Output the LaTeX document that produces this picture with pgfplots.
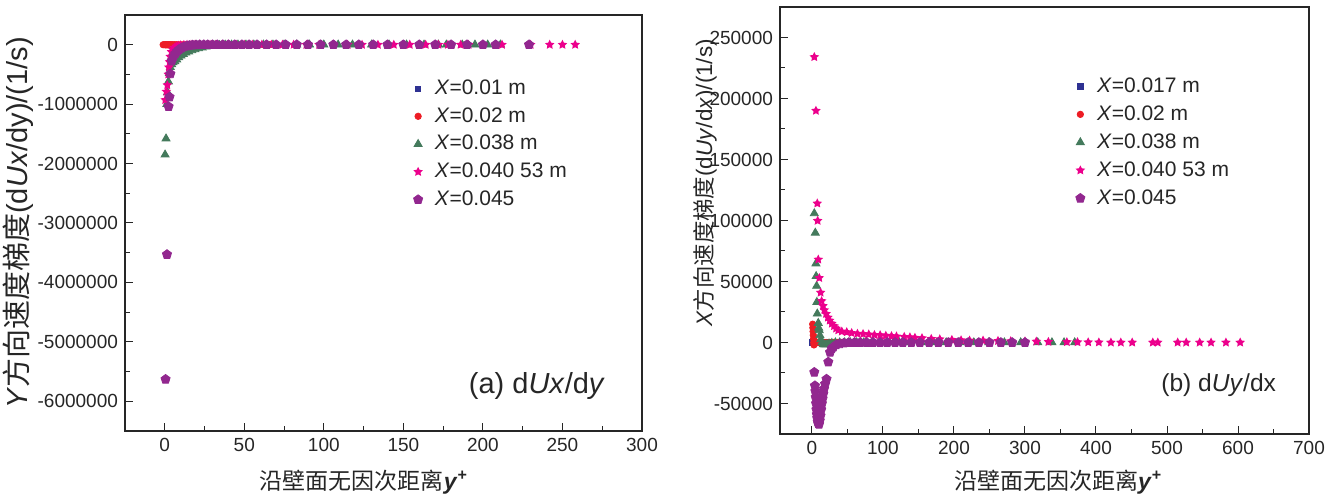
\documentclass[border=0pt]{standalone}
\usepackage{pgfplots}
\pgfplotsset{compat=1.18}
\usepackage{fontspec}
\setmainfont{Liberation Sans}
\newfontfamily\cjk{Noto Sans CJK SC}
\usetikzlibrary{plotmarks}

\definecolor{cblue}{RGB}{46,49,146}
\definecolor{cred}{RGB}{237,28,36}
\definecolor{cgreen}{RGB}{68,122,92}
\definecolor{cpink}{RGB}{236,0,140}
\definecolor{cpurple}{RGB}{146,39,143}

% filled five-pointed star
\pgfdeclareplotmark{fstar}{%
  \pgfpathmoveto{\pgfpointpolar{90}{\pgfplotmarksize}}%
  \pgfpathlineto{\pgfpointpolar{126}{0.5\pgfplotmarksize}}%
  \pgfpathlineto{\pgfpointpolar{162}{\pgfplotmarksize}}%
  \pgfpathlineto{\pgfpointpolar{198}{0.5\pgfplotmarksize}}%
  \pgfpathlineto{\pgfpointpolar{234}{\pgfplotmarksize}}%
  \pgfpathlineto{\pgfpointpolar{270}{0.5\pgfplotmarksize}}%
  \pgfpathlineto{\pgfpointpolar{306}{\pgfplotmarksize}}%
  \pgfpathlineto{\pgfpointpolar{342}{0.5\pgfplotmarksize}}%
  \pgfpathlineto{\pgfpointpolar{18}{\pgfplotmarksize}}%
  \pgfpathlineto{\pgfpointpolar{54}{0.5\pgfplotmarksize}}%
  \pgfpathclose\pgfusepathqfill}

\pgfplotsset{
  panel/.style={
    scale only axis,
    axis line style={line width=0.6pt, black!85},
    tick style={line width=0.5pt, black!85},
    major tick length=4pt, minor tick length=2.5pt,
    xtick pos=bottom, ytick pos=left,
    minor x tick num=1, minor y tick num=1,
    scaled y ticks=false, scaled x ticks=false,
    /pgf/number format/assume math mode=true,
    tick label style={font=\fontsize{9.5}{11}\selectfont, text=black!85},
    label style={font=\fontsize{11.5}{14}\selectfont, text=black!85},
    legend style={draw=none, fill=none, anchor=north west,
      font=\fontsize{10.5}{12.5}\selectfont, text=black!85,
      row sep=1pt, column sep=4pt, inner sep=0pt},
    legend cell align=left,
  },
  sblue/.style={only marks, mark=square*, mark size=1.3pt, color=cblue},
  sred/.style={only marks, mark=*, mark size=1.6pt, color=cred},
  sgreen/.style={only marks, mark=triangle*, mark size=2.3pt, color=cgreen},
  spink/.style={only marks, mark=fstar, mark size=2.5pt, color=cpink},
  spurple/.style={only marks, mark=pentagon*, mark size=2.4pt, color=cpurple},
}

\begin{document}
\begin{tikzpicture}
\useasboundingbox (0,0) rectangle (667.5pt,248.5pt);

% ---------------- (a) dUx/dy ----------------
\begin{axis}[panel,
  at={(62.5pt,33pt)}, anchor=south west,
  width=258.5pt, height=208pt,
  xmin=-25, xmax=300, ymin=-6500000, ymax=500000,
  xtick={0,50,100,150,200,250,300},
  ytick={-6000000,-5000000,-4000000,-3000000,-2000000,-1000000,0},
  yticklabels={-6000000,-5000000,-4000000,-3000000,-2000000,-1000000,0},
  xlabel={{\cjk 沿壁面无因次距离}\textbf{\textit{y}\textsuperscript{+}}},
  ylabel={\textit{Y}{\cjk 方向速度梯度}(d\textit{Ux}/dy)/(1/s)},
  xlabel style={at={(axis description cs:0.462,-0.123)}, anchor=center},
  ylabel style={at={(axis description cs:-0.207,0.5)}, anchor=center,
    font=\fontsize{14.5}{17}\selectfont},
  legend style={at={(0.557,0.855)}, row sep=1.05pt},
]
\addplot[sblue] coordinates {
 (0.3,0) (0.8,0) (1.5,0) (2.5,0) (3.5,0) (5,0) (7,0) (9,0) (12,0) (15,0)
 (19,0) (24,0) (30,0) (37,0) (45,0)};
\addlegendentry{\textit{X}=0.01 m}
\addplot[sred] coordinates {
 (-1,0) (0.2,0) (0.5,0) (1,0) (1.5,0) (2,0) (2.6,0) (3.2,0) (4,0) (5,0) (6,0)
 (7.2,0) (8.5,0) (10,0) (11.7,0) (13.5,0) (15.5,0) (17.7,0) (20,0) (22.5,0)
 (25,0) (28,0) (31,0) (34,0) (37.5,0) (41,0) (45,0) (49,0) (53,0) (57.5,0)
 (62,0) (66,0)};
\addlegendentry{\textit{X}=0.02 m}
\addplot[sgreen] coordinates {
 (0.2,-1850000) (0.8,-1580000) (1.3,-1000000) (1.8,-800000) (2.3,-620000)
 (2.9,-480000) (3.5,-380000) (4.3,-330000) (5.2,-300000) (6.3,-280000)
 (7.5,-250000) (8.8,-215000) (10.2,-185000) (11.7,-160000) (13.3,-135000)
 (15,-115000) (17,-95000) (19,-78000) (21.2,-62000) (23.5,-48000)
 (26,-35000) (28.7,-24000) (31.5,-15000) (34.5,-8000) (38,-3000) (42,-1000)
 (46,0) (51,0) (56,0) (62,0) (68,0) (75,0) (83,0) (91,0) (100,0) (109,0)
 (118,0) (130,0) (141,0) (152,0) (163,0) (172,0) (177,0) (187,0) (195,0)
 (203,0) (211,0)};
\addlegendentry{\textit{X}=0.038 m}
\addplot[spink] coordinates {
 (0.3,-930000) (1,-790000) (1.6,-680000) (2.2,-500000) (2.6,-380000)
 (3,-290000) (3.4,-200000) (4.2,-120000) (5,-80000) (6,-50000) (7.2,-30000)
 (8.5,-17000) (10,-8000) (12,-3000) (14,0) (16.5,0) (19,0) (22,0) (25,0)
 (28.5,0) (32,0) (36,0) (40,0) (45,0) (50,0) (55,0) (61,0) (67,0) (74,0)
 (81,0) (89,0) (97,0) (106,0) (115,0) (124,0) (134,0) (144,0) (154,0)
 (164,0) (172,0) (178,0) (186,0) (191,0) (200,0) (212,0) (230,0) (242,0)
 (250,0) (258,0)};
\addlegendentry{\textit{X}=0.040 53 m}
\addplot[spurple] coordinates {
 (0.5,-5630000) (1.4,-3530000) (2.4,-1040000) (3,-880000) (3.5,-490000)
 (4.4,-270000) (5.5,-200000) (6.6,-150000) (7.8,-110000) (9,-80000)
 (10.5,-55000) (12,-36000) (13.7,-22000) (15.5,-12000) (17.5,-5000)
 (19.7,-2000) (22,0) (24.5,0) (27,0) (30,0) (33,0) (36.5,0) (40,0) (44,0)
 (48.5,0) (53,0) (58,0) (64,0) (70,0) (76,0) (83,0) (90,0) (98,0) (106,0)
 (114,0) (122,0) (131,0) (140,0) (150,0) (160,0) (170,0) (180,0) (190,0)
 (200,0) (208,0) (229,0)};
\addlegendentry{\textit{X}=0.045}
\node[font=\fontsize{14.5}{17}\selectfont, text=black!85, anchor=east]
  at (rel axis cs:0.942,0.108) {(a) d\textit{Ux}/d\textit{y}};
\end{axis}

% ---------------- (b) dUy/dx ----------------
\begin{axis}[panel,
  at={(390pt,31.5pt)}, anchor=south west,
  width=264.5pt, height=213.5pt,
  xmin=-45, xmax=700, ymin=-75000, ymax=275000,
  xtick={0,100,200,300,400,500,600,700},
  ytick={-50000,0,50000,100000,150000,200000,250000},
  yticklabels={-50000,0,50000,100000,150000,200000,250000},
  xlabel={{\cjk 沿壁面无因次距离}\textbf{\textit{y}\textsuperscript{+}}},
  ylabel={\textit{X}{\cjk 方向速度梯度}(d\textit{Uy}/d\textit{x})/(1/s)},
  xlabel style={at={(axis description cs:0.526,-0.112)}, anchor=center},
  ylabel style={at={(axis description cs:-0.142,0.588)}, anchor=center,
    font=\fontsize{11.2}{14}\selectfont},
  legend style={at={(0.558,0.845)}, row sep=1.15pt},
]
\addplot[sblue] coordinates {
 (0.5,0) (1.5,0) (3,0) (5,0) (7,0) (10,0) (14,0) (19,0) (25,0) (32,0) (40,0)};
\addlegendentry{\textit{X}=0.017 m}
\addplot[sred] coordinates {
 (1,15000) (1.3,12000) (1.6,9000) (1.9,6000) (2.2,3000) (2.5,0) (2.8,-2000)
 (3.5,-1000) (4.5,0) (6,0) (8,0) (10,0) (13,0) (16,0) (20,0) (25,0) (30,0)
 (36,0) (42,0) (50,0)};
\addlegendentry{\textit{X}=0.02 m}
\addplot[sgreen] coordinates {
 (3.3,105800) (4.7,89900) (5.6,64700) (5.9,54300) (6.6,46300) (6.9,33100)
 (7.5,23600) (8.9,15900) (9.5,12000) (10.3,9900) (11.3,5800) (12.5,2500)
 (14,0) (16,-1500) (18.5,-1800) (21,-1500) (24,-1000) (28,-500) (33,0)
 (39,0) (46,0) (54,0) (63,0) (73,0) (84,0) (96,0) (109,0) (123,0) (138,0)
 (154,0) (171,0) (189,0) (208,0) (228,0) (249,0) (271,0) (294,0) (318,0)
 (338,0) (355,0) (370,0)};
\addlegendentry{\textit{X}=0.038 m}
\addplot[spink] coordinates {
 (3.3,234000) (5.6,190000) (7.5,114000) (8,99800) (8.9,68000) (10.3,52900)
 (12.2,40900) (13.6,34000) (15.5,30000) (17.5,26500) (20,23500)
 (22.5,20500) (25,18000) (28,15500) (31,13500) (34,11500) (37,10000)
 (42,9000) (49,8500) (56,7800) (64,7200) (72,7000) (80,6600) (88,6200)
 (96,6000) (104,5600) (112,5200) (119,5000) (130,4600) (138,4300)
 (145,3900) (155,3600) (168,3000) (180,2700) (197,2200) (210,1900)
 (222,1600) (241,1600) (262,1300) (280,1100) (300,900) (316,800)
 (333,500) (359,400) (374,300) (389,200) (404,100) (421,0) (435,0)
 (451,0) (480,0) (487,0) (515,0) (527,0) (546,0) (562,0) (583,0) (603,0)};
\addlegendentry{\textit{X}=0.040 53 m}
\addplot[spurple] coordinates {
 (3.3,-24400) (4.2,-35400) (4.8,-40000) (5.3,-45000) (5.8,-50000)
 (6.3,-55000) (6.9,-59000) (7.5,-62000) (8.2,-65000) (9,-66500)
 (10,-67000) (11,-64000) (12,-60000) (13,-55000) (14,-50000) (15,-46000)
 (16,-42000) (17,-38000) (18.5,-34000) (20.5,-30000) (23,-16000)
 (25.5,-8000) (28,-5000) (30,-3800) (34,-2000) (39,-1100) (45,-500)
 (52,0) (60,0) (68,0) (77,0) (86,0) (96,0) (106,0) (117,0) (128,0)
 (140,0) (152,0) (165,0) (178,0) (192,0) (206,0) (220,0) (235,0) (250,0)
 (266,0) (282,0) (300,0)};
\addlegendentry{\textit{X}=0.045}
\node[font=\fontsize{12.3}{15}\selectfont, text=black!85, anchor=east]
  at (rel axis cs:0.951,0.115) {(b) d\textit{Uy}/dx};
\end{axis}
\end{tikzpicture}
\end{document}
